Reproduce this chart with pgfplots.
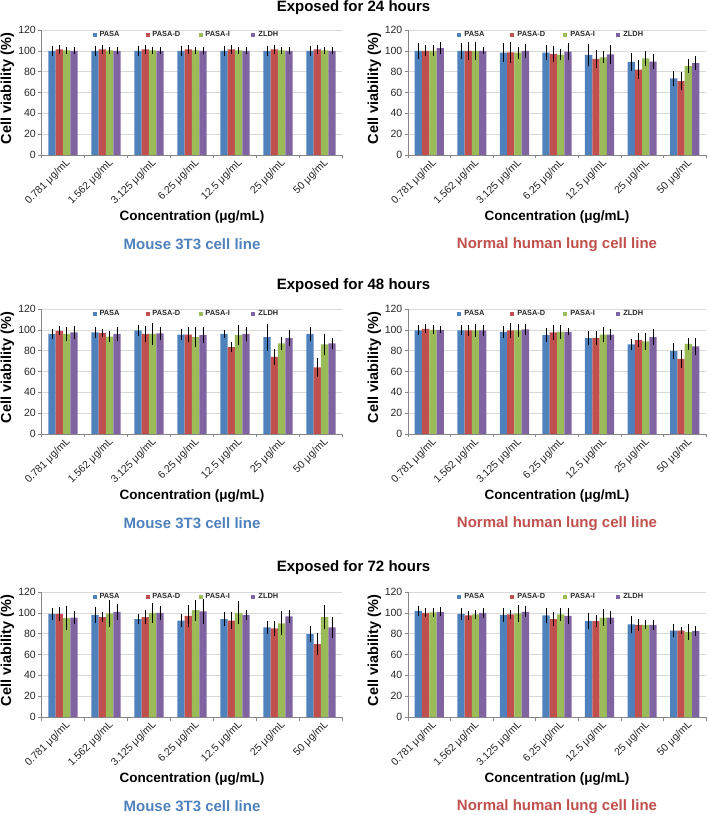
\documentclass[border=0pt]{standalone}
\usepackage{fontspec}
\setmainfont{Liberation Sans}
\usepackage{pgfplots}
\usepackage{pgfplotstable}
\pgfplotsset{compat=1.18}

\definecolor{cBlue}{HTML}{4F81BD}
\definecolor{cRed}{HTML}{C0504D}
\definecolor{cGreen}{HTML}{9BBB59}
\definecolor{cPurple}{HTML}{8064A2}
\definecolor{axgray}{HTML}{868686}
\definecolor{gridgray}{HTML}{D9D9D9}
\definecolor{txtgray}{HTML}{262626}

\newcommand\tickfont{\fontsize{10.5}{12}\selectfont}
\newcommand\labfont{\fontsize{13.5}{16}\selectfont\bfseries}
\newcommand\ylabfont{\fontsize{14.5}{17}\selectfont\bfseries}
\newcommand\titfont{\fontsize{15}{18}\selectfont\bfseries}

% x  PASA err  PASA-D err  PASA-I err  ZLDH err
\pgfplotstableread{
x a ea b eb c ec d ed
0 100 3 101.5 2.5 100.5 1.5 100 1.5
1 100 3 101.5 2.5 100.5 1.5 100 1.5
2 100 3 101.5 2.5 100.5 1.5 100 1.5
3 100 3 101.5 2.5 100.5 1.5 100 1.5
4 100 3 101.5 2.5 100.5 1.5 100 1.5
5 100 3 101.5 2.5 100.5 1.5 100 1.5
6 100 3 101.5 2.5 100.5 1.5 100 1.5
}\tMouseA
\pgfplotstableread{
x a ea b eb c ec d ed
0 100 6 100 3.5 100 3.5 102.5 4
1 100 6 100 6.5 100 7 100 1.5
2 98.2 7 98.6 8 98.2 4 100 4.5
3 98.2 5.5 97 6 96.3 3.5 99.2 6
4 96 9 92.2 7 93.8 4 96.6 7
5 89.3 6.5 82 7.5 92.8 5 89.6 5
6 73.6 5 71 7 85.4 5 88.3 5
}\tLungA
\pgfplotstableread{
x a ea b eb c ec d ed
0 96.2 3 99 2.5 96 4.5 97.5 4.5
1 97.5 3.5 97 2 93.5 3.5 96 4.5
2 99.5 3.5 96 5.5 96 8.5 96.5 4.5
3 95.5 3.5 95.5 5 93 7.5 95 6
4 96 2 83.5 3 95 8 96 5
5 93 11 74 5.5 87 4 92 6
6 96 4.5 64 7 86 8.5 87 3.5
}\tMouseB
\pgfplotstableread{
x a ea b eb c ec d ed
0 99.5 3 101 2.5 100 2.5 100 1.5
1 99.5 3 99.5 3.5 99.5 4.5 99.5 3.5
2 98 3.5 99.5 5.5 99.5 4.5 100.5 3.5
3 95 4.5 97.5 5.5 98 4.5 98 1.5
4 92 5 92 5 95.5 5.5 95.5 3.5
5 86 3.5 90 5 89 6 93 6
6 79.5 5.5 72 7 86.5 4 84 6.5
}\tLungB
\pgfplotstableread{
x a ea b eb c ec d ed
0 99 3.5 99 5 95 10 95.5 4
1 98 6 96 3 99.5 11 101 5.5
2 94 2.5 96 5 100 7.5 100 4.5
3 92.5 4 97 9 102.5 8 101.5 10
4 94 5 92.5 6 100 9 98 3
5 86 4.5 85 5 90 9.5 96.5 4
6 79.5 6 70 9 96 10 86 8.5
}\tMouseC
\pgfplotstableread{
x a ea b eb c ec d ed
0 102 3 100 2.5 100.5 2.5 101 2.5
1 99 3.5 97.5 2 98.5 2.5 100 3
2 98 5 98.5 2.5 99.5 6 101 3.5
3 97.5 5.5 94 4.5 98.5 4 97 5.5
4 92 5.5 92 4 95.5 6 95.5 4.5
5 89 6.5 88.5 4 88.5 2.5 88.5 3
6 83 4 83 1.5 81.5 5.5 82.5 2.5
}\tLungC

\pgfplotsset{
  sq legend/.style={legend image code/.code={\fill[##1] (0pt,-2pt) rectangle (4pt,2pt);}},
  eb/.style={sq legend, error bars/.cd, y dir=both, y explicit,
    error bar style={draw=black, line width=0.6pt},
    error mark options={draw=black, line width=0.6pt, mark size=2pt}},
  panel/.style={
    anchor=south west, scale only axis, height=125pt, clip=false,
    ybar=0pt, bar width=7.3pt,
    ymin=0, ymax=120, ytick={0,20,...,120},
    xmin=-0.5, xmax=6.5,
    xtick={-0.5,0.5,...,6.5},
    x tick label as interval,
    xticklabels={0.781 μg/mL,1.562 μg/mL,3.125 μg/mL,6.25 μg/mL,12.5 μg/mL,25 μg/mL,50 μg/mL},
    axis lines*=left,
    axis line style={-, draw=axgray, line width=0.6pt},
    tick style={draw=axgray, line width=0.6pt},
    tick align=outside, major tick length=3.5pt,
    ymajorgrids, grid style={draw=gridgray, line width=0.6pt},
    /pgf/number format/assume math mode=true,
    yticklabel style={font=\tickfont, text=txtgray, inner sep=2pt},
    xticklabel style={font=\tickfont, text=txtgray, rotate=45, anchor=north east, inner sep=1pt, xshift=3pt},
    xlabel={Concentration (μg/mL)},
    xlabel style={font=\labfont, at={(axis description cs:0.5,-0.5)}, anchor=center},
    ylabel={Cell viability (\%)},
    ylabel style={font=\ylabfont, at={(axis description cs:-0.113,0.53)}, anchor=center},
    legend columns=4,
    legend style={at={(0.5216,0.963)}, anchor=center, draw=none, fill=none,
      font=\fontsize{7.4}{8}\selectfont\bfseries, text=txtgray,
      /tikz/every odd column/.append style={column sep=2pt},
      nodes={text width=45pt, inner sep=1pt}},
  }
}

\newcommand{\panel}[6]{%
\begin{axis}[panel, at={(#1pt,#2pt)}, width=#3pt]
\addplot[fill=cBlue, draw=none, eb] table[x=x, y=a, y error=ea] {#4};
\addplot[fill=cRed, draw=none, eb] table[x=x, y=b, y error=eb] {#4};
\addplot[fill=cGreen, draw=none, eb] table[x=x, y=c, y error=ec] {#4};
\addplot[fill=cPurple, draw=none, eb] table[x=x, y=d, y error=ed] {#4};
\legend{PASA,PASA-D,PASA-I,ZLDH}
\node[font=\titfont, text=#5] at (axis description cs:0.5,-0.715) {#6};
\end{axis}}

\begin{document}
\begin{tikzpicture}[x=1pt,y=1pt]
\path[use as bounding box] (0pt,0pt) rectangle (709pt,815pt);
\node[font=\titfont] at (353.5pt,807pt) {Exposed for 24 hours};
\node[font=\titfont] at (353.5pt,529.5pt) {Exposed for 48 hours};
\node[font=\titfont] at (353.5pt,247pt) {Exposed for 72 hours};
\panel{41.5}{660}{301}{\tMouseA}{cBlue}{Mouse 3T3 cell line}
\panel{408}{660}{298}{\tLungA}{cRed}{Normal human lung cell line}
\panel{41.5}{381}{301}{\tMouseB}{cBlue}{Mouse 3T3 cell line}
\panel{408}{381}{298}{\tLungB}{cRed}{Normal human lung cell line}
\panel{41.5}{98}{301}{\tMouseC}{cBlue}{Mouse 3T3 cell line}
\panel{408}{98}{298}{\tLungC}{cRed}{Normal human lung cell line}
\end{tikzpicture}
\end{document}
